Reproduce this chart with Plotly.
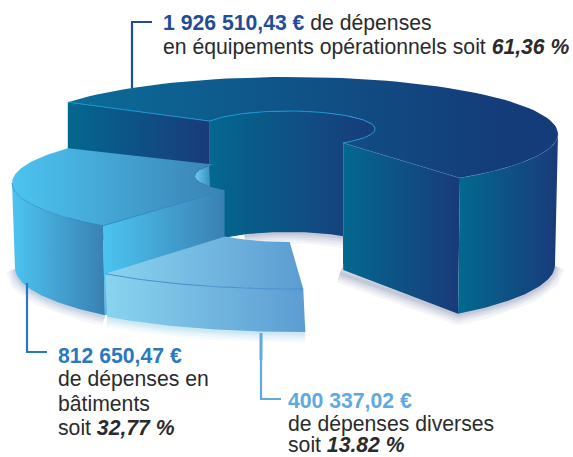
import numpy as np
import plotly.graph_objects as go

# --- data ---
CATEGORIES = ["équipements opérationnels", "bâtiments", "dépenses diverses"]
AMOUNT_LABELS = ["1 926 510,43 €", "812 650,47 €", "400 337,02 €"]
PERCENT_LABELS = ["61,36 %", "32,77 %", "13.82 %"]
PERCENTS = [61.36, 32.77, 13.82]

# --- drawing style ---
NAVY0, NAVY1 = "#03688f", "#193a79"
BLUE0, BLUE1 = "#4cc4f0", "#3a80b2"
PALE0, PALE1 = "#8ad4ef", "#5c9cd2"
C_TXT = "#2b2b2b"
C_LAB = ["#1f4e96", "#2a78bd", "#5fa9de"]
FONT = "Liberation Sans"
FS = 21.2

total = sum(PERCENTS)
sweeps = [p / total * 360 for p in PERCENTS]
SWEEP_SCALE = [0.961, 0.79, 1.017]
START = [146.0, 142.3, 224.9]
s_dark, s_blue, s_pale = [s * k for s, k in zip(sweeps, SWEEP_SCALE)]


def arc(cx, cy, rx, ry, a0, a1, n=80):
    t = np.radians(np.linspace(a0, a1, n))
    return cx + rx * np.cos(t), cy - ry * np.sin(t)


fig = go.Figure()


def face(x, y, c0, c1, x0=None, x1=None):
    x = np.asarray(x, float)
    y = np.asarray(y, float)
    x0 = x.min() if x0 is None else x0
    x1 = x.max() if x1 is None else x1
    fig.add_trace(go.Scatter(
        x=np.r_[x, x[0]], y=np.r_[y, y[0]], mode="lines", fill="toself",
        line=dict(width=0, color=c1), hoverinfo="skip", showlegend=False,
        fillgradient=dict(type="horizontal", start=x0, stop=x1,
                          colorscale=[[0, c0], [1, c1]])))


def stroke(x, y, color, width):
    fig.add_trace(go.Scatter(x=x, y=y, mode="lines", hoverinfo="skip", showlegend=False,
                             line=dict(color=color, width=width)))


def shadow(x, y, rgb, offset=2, alpha=0.05):
    x = np.asarray(x, float)
    y = np.asarray(y, float)
    for w in (20, 15, 11, 8, 5, 3):
        stroke(x, y + offset, f"rgba({rgb},{alpha})", w)


# geometry of each block: top / bottom ellipses
D_T = (290, 134, 268, 57)
D_B = (290, 265, 265, 63)
D_IT = (288, 129, 87, 18)
D_IH = 121
B_T = (280, 183, 268, 57)
B_B = (280, 268, 265, 63)
B_I = (282, 176, 87, 19)
P_T = (295, 237, 268, 52)
P_B = (297, 280, 268, 52)
P_I = (287, 223, 87, 19)

a0, a1 = START[0], START[0] - s_dark
b0, b1 = START[1], START[1] + s_blue
p0, p1 = START[2], START[2] + s_pale

# --- soft shadows ---
ix, iy = arc(*D_IT, 120, 40)
shadow(ix, iy + D_IH, "45,50,120", 1)
dbx, dby = arc(*D_B, 0, a1)
shadow(np.r_[dbx, 340], np.r_[dby, 272], "45,50,120", 1)
bbx, bby = arc(*B_B, 180, b1)
shadow(bbx, bby, "50,90,150", 1)
pbx, pby = arc(*P_B, p0, p1)
shadow(pbx, pby, "70,180,225", 1)

# --- dark block ---
ix, iy = arc(*D_IT, a0 + 8, a1)
face(np.r_[ix, ix[::-1]], np.r_[iy, iy[::-1] + D_IH], NAVY0, NAVY1, 209, 375)

ox, oy = arc(*D_T, a0, a1)
face(np.r_[ox, ix[::-1]], np.r_[oy, iy[::-1]], "#0b6c98", "#143c78", 68, 500)

# left and right cut faces
bx, by = arc(*D_B, a1, a1, 1)
face([ox[0], ix[0], ix[0], ox[0]], [oy[0], iy[0], iy[0] + 125, oy[0] + 135], NAVY0, NAVY1)
face([ix[-1], ox[-1], bx[0], ix[-1]], [iy[-1], oy[-1], by[0], iy[-1] + 127], NAVY0, NAVY1)

# outer wall
tx, ty = arc(*D_T, 0, a1)
bx, by = arc(*D_B, 0, a1)
face(np.r_[tx, bx[::-1]], np.r_[ty, by[::-1]], NAVY1, NAVY0, tx.max(), tx.min())

stroke(ix, iy, "#1a93d0", 1)
stroke([ox[0], ix[0]], [oy[0], iy[0]], "#1a93d0", 1)
stroke(tx, ty, "rgba(70,120,170,0.6)", 0.7)
stroke([ix[-1], ox[-1]], [iy[-1], oy[-1]], "rgba(70,120,170,0.6)", 0.7)

# --- notch: the inner wall of the blue block seen through its hole ---
nx, ny = arc(*B_I, b0 - 12, b1 + 12, 80)
keep = nx <= 210
face(nx[keep], ny[keep], "#6ccaee", "#3a8fc0", 195, 210)

# --- blue block ---
ox, oy = arc(*B_T, b0, b1)
ix, iy = arc(*B_I, b0, b1)
tx, ty = arc(*B_T, 180, b1)
bx, by = arc(*B_B, 180, b1)
face([ox[-1], ix[-1], ix[-1], bx[-1]], [oy[-1], iy[-1], iy[-1] + 88, by[-1]], BLUE0, BLUE1)
face(np.r_[tx, bx[::-1]], np.r_[ty, by[::-1]], BLUE0, BLUE1)
face(np.r_[ox, ix[::-1]], np.r_[oy, iy[::-1]], BLUE0, BLUE1, 12, 228)
stroke(tx, ty, "#2f8fca", 0.8)
stroke([ox[-1], ix[-1]], [oy[-1], iy[-1]], "#2f8fca", 0.8)

# --- pale block ---
ox, oy = arc(*P_T, p0, p1)
ix, iy = arc(*P_I, p0, p1)
bx, by = arc(*P_B, p0, p1)
face(np.r_[ox, bx[::-1]], np.r_[oy, by[::-1]], PALE0, PALE1, 105, 306)
face(np.r_[ox, ix[::-1]], np.r_[oy, iy[::-1]], PALE0, PALE1, 105, 303)
stroke(ox, oy, "#3f8ccc", 0.9)

# --- leader lines ---
stroke([152, 132, 132], [22, 22, 88], C_LAB[0], 2.2)
stroke([47, 27, 27], [352, 352, 283], C_LAB[1], 2.2)
stroke([261, 261], [333, 360], C_LAB[2], 3)
stroke([281, 261, 261], [399, 399, 360], C_LAB[2], 2.2)


# --- text ---
def label(x, y, text):
    fig.add_annotation(x=x, y=y, text=text, showarrow=False, xanchor="left", yanchor="middle",
                       xref="x", yref="y", align="left", borderpad=0,
                       font=dict(family=FONT, size=FS, color=C_TXT))


def head(i):
    return f"<b><span style='color:{C_LAB[i]}'>{AMOUNT_LABELS[i]}</span></b>"


label(162, 23, head(0) + " de dépenses")
label(162, 47, f"en {CATEGORIES[0]} soit <b><i>{PERCENT_LABELS[0]}</i></b>")
label(57, 355, head(1))
label(57, 379, "de dépenses en")
label(57, 403, CATEGORIES[1])
label(57, 427, f"soit <b><i>{PERCENT_LABELS[1]}</i></b>")
label(287, 400, head(2))
label(287, 424, "de " + CATEGORIES[2])
label(287, 444.5, f"soit <b><i>{PERCENT_LABELS[2]}</i></b>")

fig.update_layout(
    width=573, height=457, margin=dict(l=0, r=0, t=0, b=0),
    paper_bgcolor="white", plot_bgcolor="white", showlegend=False,
    xaxis=dict(range=[0, 573], visible=False, fixedrange=True),
    yaxis=dict(range=[457, 0], visible=False, fixedrange=True),
)
fig.write_html("out.html", config={"displayModeBar": False},
               post_script="document.body.style.margin='0';document.documentElement.style.overflow='hidden';")
